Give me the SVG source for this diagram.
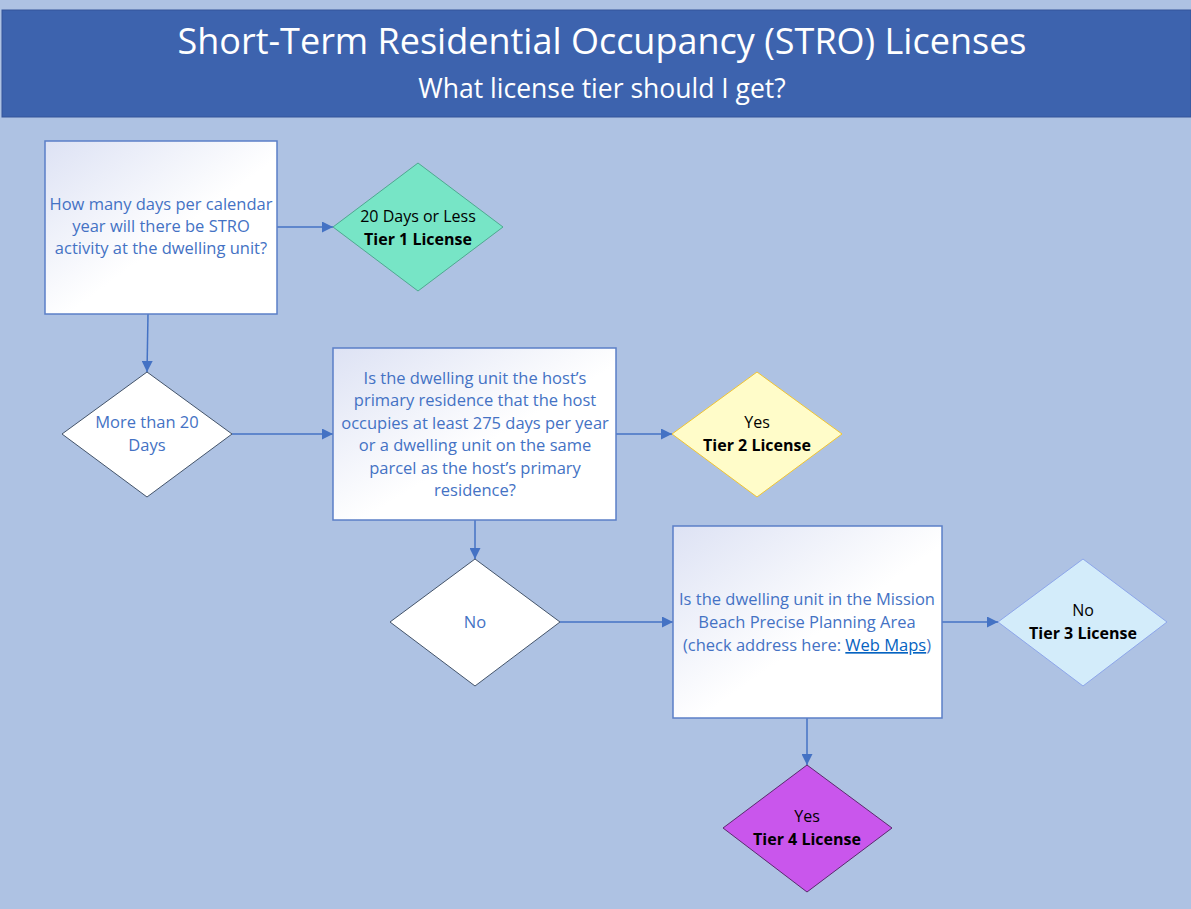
<svg xmlns="http://www.w3.org/2000/svg" width="1191" height="909" viewBox="0 0 1191 909">
<defs>
<linearGradient id="boxg" x1="0" y1="0" x2="1" y2="1">
<stop offset="0" stop-color="#DDE2F4"/>
<stop offset="0.55" stop-color="#FFFFFF"/>
<stop offset="1" stop-color="#FFFFFF"/>
</linearGradient>
<marker id="arrL" viewBox="0 0 10 10" refX="10" refY="5" markerWidth="11" markerHeight="11" markerUnits="userSpaceOnUse" orient="auto">
<path d="M0,0 L10,5 L0,10 z" fill="#4472C4"/>
</marker>
</defs>
<style>
.bg{fill:#AEC2E3}
.box{fill:url(#boxg);stroke:#5B7FC7;stroke-width:1.5}
.q{font-family:"Open Sans","Liberation Sans",sans-serif;font-size:16.5px;fill:#4472C4;text-anchor:middle}
.d{font-family:"Open Sans","Liberation Sans",sans-serif;font-size:16px;fill:#000;text-anchor:middle}
.b{font-weight:bold}
.conn{stroke:#4472C4;stroke-width:1.5;fill:none;marker-end:url(#arrL)}
.title{font-family:"Open Sans","Liberation Sans",sans-serif;fill:#fff;text-anchor:middle}
</style>
<rect class="bg" x="0" y="0" width="1191" height="909"/>
<g id="header">
<rect x="2" y="10" width="1189" height="107" fill="#3D63AE" stroke="#34549A" stroke-width="1"/>
<text class="title" x="602" y="54" font-size="36">Short-Term Residential Occupancy (STRO) Licenses</text>
<text class="title" x="602" y="98" font-size="26.5">What license tier should I get?</text>
</g>
<g id="connectors">
<line class="conn" x1="277" y1="227" x2="333" y2="227"/>
<line class="conn" x1="148" y1="314" x2="147" y2="372"/>
<line class="conn" x1="232" y1="434" x2="333" y2="434"/>
<line class="conn" x1="616" y1="434" x2="672" y2="434"/>
<line class="conn" x1="475" y1="520" x2="475" y2="559"/>
<line class="conn" x1="560" y1="622" x2="673" y2="622"/>
<line class="conn" x1="942" y1="622" x2="998" y2="622"/>
<line class="conn" x1="807" y1="718" x2="807" y2="765"/>
</g>
<g id="q1">
<rect class="box" x="45" y="141" width="232" height="173"/>
<text class="q" x="161" y="210">How many days per calendar</text>
<text class="q" x="161" y="232">year will there be STRO</text>
<text class="q" x="161" y="254">activity at the dwelling unit?</text>
</g>
<g id="tier1">
<polygon points="333,227 418,163 503,227 418,291" fill="#77E5C6" stroke="#4FA890" stroke-width="1"/>
<text class="d" x="418" y="222">20 Days or Less</text>
<text class="d b" x="418" y="245">Tier 1 License</text>
</g>
<g id="more20">
<polygon points="62,434 147,372 232,434 147,497" fill="#FFFFFF" stroke="#44546A" stroke-width="1"/>
<text class="q" x="147" y="428">More than 20</text>
<text class="q" x="147" y="451">Days</text>
</g>
<g id="q2">
<rect class="box" x="333" y="348" width="283" height="172"/>
<text class="q" x="475" y="384">Is the dwelling unit the host’s</text>
<text class="q" x="475" y="406">primary residence that the host</text>
<text class="q" x="475" y="429">occupies at least 275 days per year</text>
<text class="q" x="475" y="451">or a dwelling unit on the same</text>
<text class="q" x="475" y="474">parcel as the host’s primary</text>
<text class="q" x="475" y="496">residence?</text>
</g>
<g id="tier2">
<polygon points="672,434 757,372 842,434 757,497" fill="#FFFCC9" stroke="#F2C531" stroke-width="1"/>
<text class="d" x="757" y="428">Yes</text>
<text class="d b" x="757" y="451">Tier 2 License</text>
</g>
<g id="no1">
<polygon points="390,622 475,559 560,622 475,686" fill="#FFFFFF" stroke="#44546A" stroke-width="1"/>
<text class="q" x="475" y="628">No</text>
</g>
<g id="q3">
<rect class="box" x="673" y="526" width="269" height="192"/>
<text class="q" x="807" y="605">Is the dwelling unit in the Mission</text>
<text class="q" x="807" y="628">Beach Precise Planning Area</text>
<text class="q" x="807" y="651">(check address here: <tspan fill="#0563C1" text-decoration="underline">Web Maps</tspan>)</text>
</g>
<g id="tier3">
<polygon points="998,622 1083,559 1167,622 1083,686" fill="#D3ECFA" stroke="#8DA6EA" stroke-width="1"/>
<text class="d" x="1083" y="616">No</text>
<text class="d b" x="1083" y="639">Tier 3 License</text>
</g>
<g id="tier4">
<polygon points="723,828 807,765 892,828 807,892" fill="#C956EC" stroke="#5A2A6E" stroke-width="1"/>
<text class="d" x="807" y="822">Yes</text>
<text class="d b" x="807" y="845">Tier 4 License</text>
</g>
</svg>
